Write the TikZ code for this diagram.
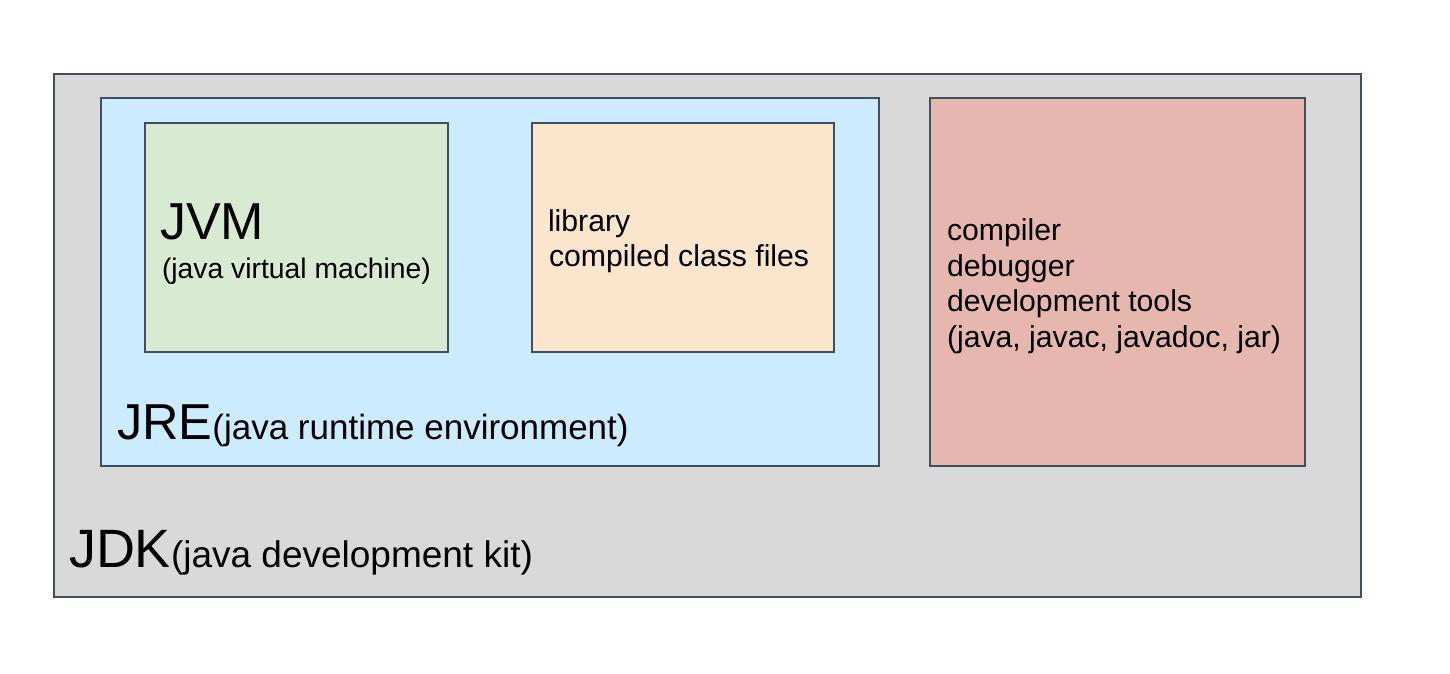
\documentclass[tikz,border=0pt]{standalone}
\usepackage{fontspec}
\setmainfont{Liberation Sans}
\definecolor{bordc}{HTML}{3E5060}
\definecolor{jdkc}{HTML}{D9D9D9}
\definecolor{jrec}{HTML}{CCEBFE}
\definecolor{jvmc}{HTML}{D9EAD3}
\definecolor{libc}{HTML}{FCE5CD}
\definecolor{toolc}{HTML}{E6B7AF}
\tikzset{
  box/.style={draw=bordc, line width=1.3pt},
  txt/.style={anchor=base west, inner sep=0pt, outer sep=0pt, text=black},
  body/.style={txt, font=\fontsize{30.2}{36}\selectfont},
}
\begin{document}
\begin{tikzpicture}[x=1pt,y=-1pt]
\useasboundingbox (0,0) rectangle (1450,673);
\fill[white] (0,0) rectangle (1450,673);
% boxes
\path[box, fill=jdkc] (54,74) rectangle (1361,597);
\path[box, fill=jrec] (101,98) rectangle (879,466);
\path[box, fill=jvmc] (145,123) rectangle (448,352);
\path[box, fill=libc] (532,123) rectangle (834,352);
\path[box, fill=toolc] (930,98) rectangle (1305,466);
% JVM
\node[txt, font=\fontsize{52}{60}\selectfont] (jvm) at (160,239) {JVM};
\node[txt, font=\fontsize{28.3}{34}\selectfont] (jvmsub) at (162,278) {(java virtual machine)};
% library
\node[body] (lib1) at (548,231) {library};
\node[body] (lib2) at (549,266) {compiled class files};
% tools
\node[body] (t1) at (947,240) {compiler};
\node[body] (t2) at (947,276) {debugger};
\node[body] (t3) at (947,311) {development tools};
\node[body] (t4) at (947,347) {(java, javac, javadoc, jar)};
% JRE
\node[txt, font=\fontsize{50.5}{60}\selectfont] (jre) at (117,439) {JRE};
\node[txt, font=\fontsize{35}{40}\selectfont, anchor=base west] (jresub) at (jre.base east) {(java runtime environment)};
% JDK
\node[txt, font=\fontsize{54}{64}\selectfont] (jdk) at (69,567) {JDK};
\node[txt, font=\fontsize{37}{44}\selectfont, anchor=base west] (jdksub) at (jdk.base east) {(java development kit)};
\end{tikzpicture}
\end{document}
